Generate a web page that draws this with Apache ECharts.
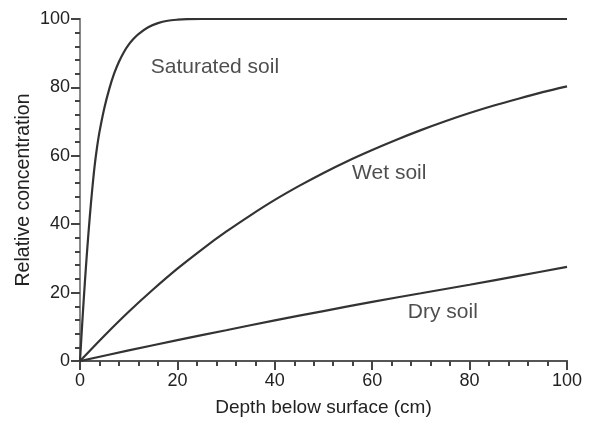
<!DOCTYPE html>
<html>
<head>
<meta charset="utf-8">
<script src="https://cdn.jsdelivr.net/npm/echarts@6/dist/echarts.min.js"></script>
<style>
html,body{margin:0;padding:0;background:#fff;}
#chart{width:590px;height:426px;}
</style>
</head>
<body>
<div id="chart"></div>
<script>
// Depth below surface (cm) and relative concentration
var saturatedX = [0, 0.5, 1, 1.5, 2, 2.5, 3, 3.5, 4, 5, 6, 7, 8, 9, 10, 11, 12, 14, 16, 18, 20, 22, 25, 30, 40, 60, 80, 100];
var saturatedY = [0, 12, 23, 33, 42, 50, 57, 62.5, 67, 74, 79.5, 84, 87.5, 90.3, 92.5, 94.2, 95.6, 97.6, 98.8, 99.5, 99.8, 99.95, 100, 100, 100, 100, 100, 100];

var wetX = [0, 5, 10, 15, 20, 25, 30, 35, 40, 45, 50, 55, 60, 65, 70, 75, 80, 85, 90, 95, 100];
var wetY = [0, 7.4, 14.4, 20.9, 27.0, 32.6, 37.8, 42.6, 47.1, 51.2, 55.0, 58.5, 61.7, 64.7, 67.5, 70.1, 72.5, 74.7, 76.7, 78.6, 80.3];

var dryX = [0, 10, 20, 30, 40, 50, 60, 70, 80, 90, 100];
var dryY = [0, 3.1, 6.1, 9, 11.9, 14.6, 17.3, 19.8, 22.3, 24.9, 27.5];

// Curve labels and where they sit (data coordinates)
var labelNames = ['Saturated soil', 'Wet soil', 'Dry soil'];
var labelX = [27.7, 63.5, 74.5];
var labelY = [86, 55, 14.3];

var xTicks = [0, 20, 40, 60, 80, 100];
var yTicks = [0, 20, 40, 60, 80, 100];

function pairs(xs, ys) {
  return xs.map(function (x, i) { return [x, ys[i]]; });
}

var font = 'Liberation Sans, Arial, sans-serif';
var textColor = '#222';
var lineColor = '#333';
var axisColor = '#444';

var chart = echarts.init(document.getElementById('chart'), null, {renderer: 'canvas'});

var curveStyle = {color: lineColor, width: 2.2};

chart.setOption({
  animation: false,
  backgroundColor: '#fff',
  grid: {left: 80, right: 23, top: 19, bottom: 65, containLabel: false},
  xAxis: [{
    type: 'value', min: xTicks[0], max: xTicks[xTicks.length - 1], interval: 20,
    name: 'Depth below surface (cm)', nameLocation: 'middle', nameGap: 37,
    nameMoveOverlap: false,
    nameTextStyle: {fontFamily: font, fontSize: 19, color: textColor},
    axisLine: {show: true, lineStyle: {color: axisColor, width: 2}},
    axisTick: {show: true, length: 9, lineStyle: {color: axisColor, width: 2}},
    minorTick: {show: true, splitNumber: 5, length: 5, lineStyle: {color: axisColor, width: 2}},
    axisLabel: {fontFamily: font, fontSize: 18, color: textColor, margin: 11},
    splitLine: {show: false}
  }, {
    type: 'value', position: 'top', min: 0, max: 100,
    axisLine: {show: true, lineStyle: {color: '#555', width: 2}},
    axisTick: {show: false}, axisLabel: {show: false}, splitLine: {show: false}
  }],
  yAxis: [{
    type: 'value', min: yTicks[0], max: yTicks[yTicks.length - 1], interval: 20,
    name: 'Relative concentration', nameLocation: 'middle', nameGap: 46,
    nameMoveOverlap: false,
    nameTextStyle: {fontFamily: font, fontSize: 19.5, color: textColor},
    axisLine: {show: true, lineStyle: {color: axisColor, width: 2}},
    axisTick: {show: true, length: 9, lineStyle: {color: axisColor, width: 2}},
    minorTick: {show: true, splitNumber: 5, length: 5, lineStyle: {color: axisColor, width: 2}},
    axisLabel: {fontFamily: font, fontSize: 18, color: textColor, margin: 10},
    splitLine: {show: false}
  }, {
    type: 'value', position: 'right', min: 0, max: 100,
    axisLine: {show: true, lineStyle: {color: '#888', width: 2}},
    axisTick: {show: false}, axisLabel: {show: false}, splitLine: {show: false}
  }],
  series: [{
    name: 'Saturated soil', type: 'line', data: pairs(saturatedX, saturatedY),
    smooth: 0.3, showSymbol: false, symbol: 'none',
    lineStyle: curveStyle, z: 3
  }, {
    name: 'Wet soil', type: 'line', data: pairs(wetX, wetY),
    smooth: 0.3, showSymbol: false, symbol: 'none',
    lineStyle: curveStyle, z: 3
  }, {
    name: 'Dry soil', type: 'line', data: pairs(dryX, dryY),
    smooth: 0.3, showSymbol: false, symbol: 'none',
    lineStyle: curveStyle, z: 3
  }, {
    name: 'labels', type: 'scatter', symbolSize: 0, silent: true,
    data: labelNames.map(function (n, i) { return {name: n, value: [labelX[i], labelY[i]]}; }),
    label: {show: true, position: 'inside', formatter: '{b}', fontFamily: font, fontSize: 21, color: textColor},
    z: 4
  }]
});
</script>
</body>
</html>
